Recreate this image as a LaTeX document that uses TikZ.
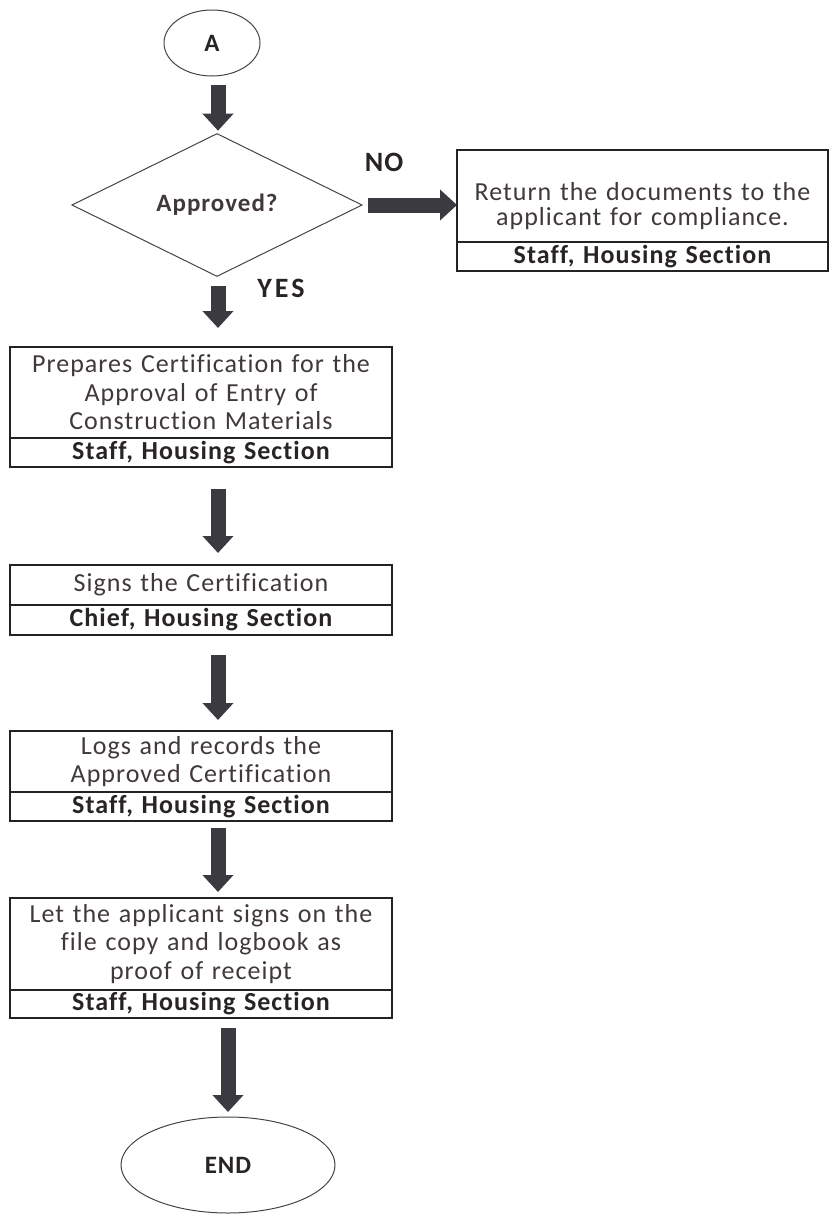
\documentclass[tikz,border=0pt]{standalone}
\usepackage{fontspec}
\setmainfont{Carlito}[LetterSpace=4, Ligatures=NoCommon]
\usepackage{tikz}
\usetikzlibrary{positioning,shapes.geometric,arrows.meta}

\definecolor{ink}{RGB}{64,56,58}
\definecolor{darkink}{RGB}{40,36,38}
\definecolor{arrowgray}{RGB}{58,58,64}
\definecolor{rule}{RGB}{35,35,35}

\begin{document}
\begin{tikzpicture}[
  x=1pt, y=-1pt,
  every node/.style={font=\fontsize{26}{28.5}\selectfont, text=ink, outer sep=0pt},
  task/.style={draw=rule, line width=1.3pt, text width=382pt, align=center, inner sep=0pt},
  foot/.style={task, minimum height=29pt, font=\fontsize{26}{28}\selectfont\bfseries, text=darkink},
  term/.style={ellipse, draw=rule!85, line width=1pt, inner sep=0pt, font=\fontsize{25}{28}\selectfont\bfseries, text=darkink},
  decide/.style={diamond, draw=rule!85, line width=1pt, inner sep=0pt, minimum width=290pt, minimum height=100pt, font=\fontsize{25}{28}\selectfont\bfseries},
  fat/.style={draw=arrowgray, line width=15pt, -{Triangle[width=30pt,length=17pt]}},
  lab/.style={font=\fontsize{28}{30}\selectfont\bfseries, text=darkink}
]
\useasboundingbox (0,0) rectangle (831,1216);
\coordinate (col) at (218,0);

\node[term, minimum width=96pt, minimum height=66pt] (A) at (212,43) {A};
\node[decide] (q) at (217,205) {Approved?};

\node[task, text width=371pt, minimum height=92pt, font=\fontsize{26}{25}\selectfont] (r) at (642.5,196) {\rule{0pt}{38pt}Return the documents to the\\applicant for compliance.};
\node[foot, text width=371pt, below=0pt of r] (rf) {Staff, Housing Section};

\node[task, minimum height=91pt] (p1) at (201,392.5) {Prepares Certification for the\\Approval of Entry of\\Construction Materials};
\node[foot, below=0pt of p1] (p1f) {Staff, Housing Section};

\node[task, minimum height=40pt] (p2) at (201,585) {Signs the Certification};
\node[foot, minimum height=30pt, below=0pt of p2] (p2f) {Chief, Housing Section};

\node[task, minimum height=61pt] (p3) at (201,761.5) {Logs and records the\\Approved Certification};
\node[foot, below=0pt of p3] (p3f) {Staff, Housing Section};

\node[task, minimum height=92pt] (p4) at (201,944) {Let the applicant signs on the\\file copy and logbook as\\proof of receipt};
\node[foot, minimum height=28pt, below=0pt of p4] (p4f) {Staff, Housing Section};

\node[term, minimum width=214pt, minimum height=96pt] (e) at (228,1165) {END};

\node[lab] (no) at (384,162) {NO};
\node[lab] (yes) at (281,288) {Y\hspace{3pt}E\hspace{3pt}S};

% arrows down the main line
\draw[fat, shorten <=9pt, shorten >=3pt] (A.south -| col) -- (q.north -| col);
\draw[fat, shorten <=10pt, shorten >=19pt] (q.south -| col) -- (p1.north -| col);
\draw[fat, shorten <=22pt, shorten >=12pt] (p1f.south -| col) -- (p2.north -| col);
\draw[fat, shorten <=20pt, shorten >=11pt] (p2f.south -| col) -- (p3.north -| col);
\draw[fat, shorten <=7pt, shorten >=6pt] (p3f.south -| col) -- (p4.north -| col);
\draw[fat, shorten <=10pt, shorten >=5pt] (p4f.south -| e) -- (e.north);
\draw[fat, shorten <=6pt] (q.east) -- (q.east -| r.west);
\end{tikzpicture}
\end{document}
